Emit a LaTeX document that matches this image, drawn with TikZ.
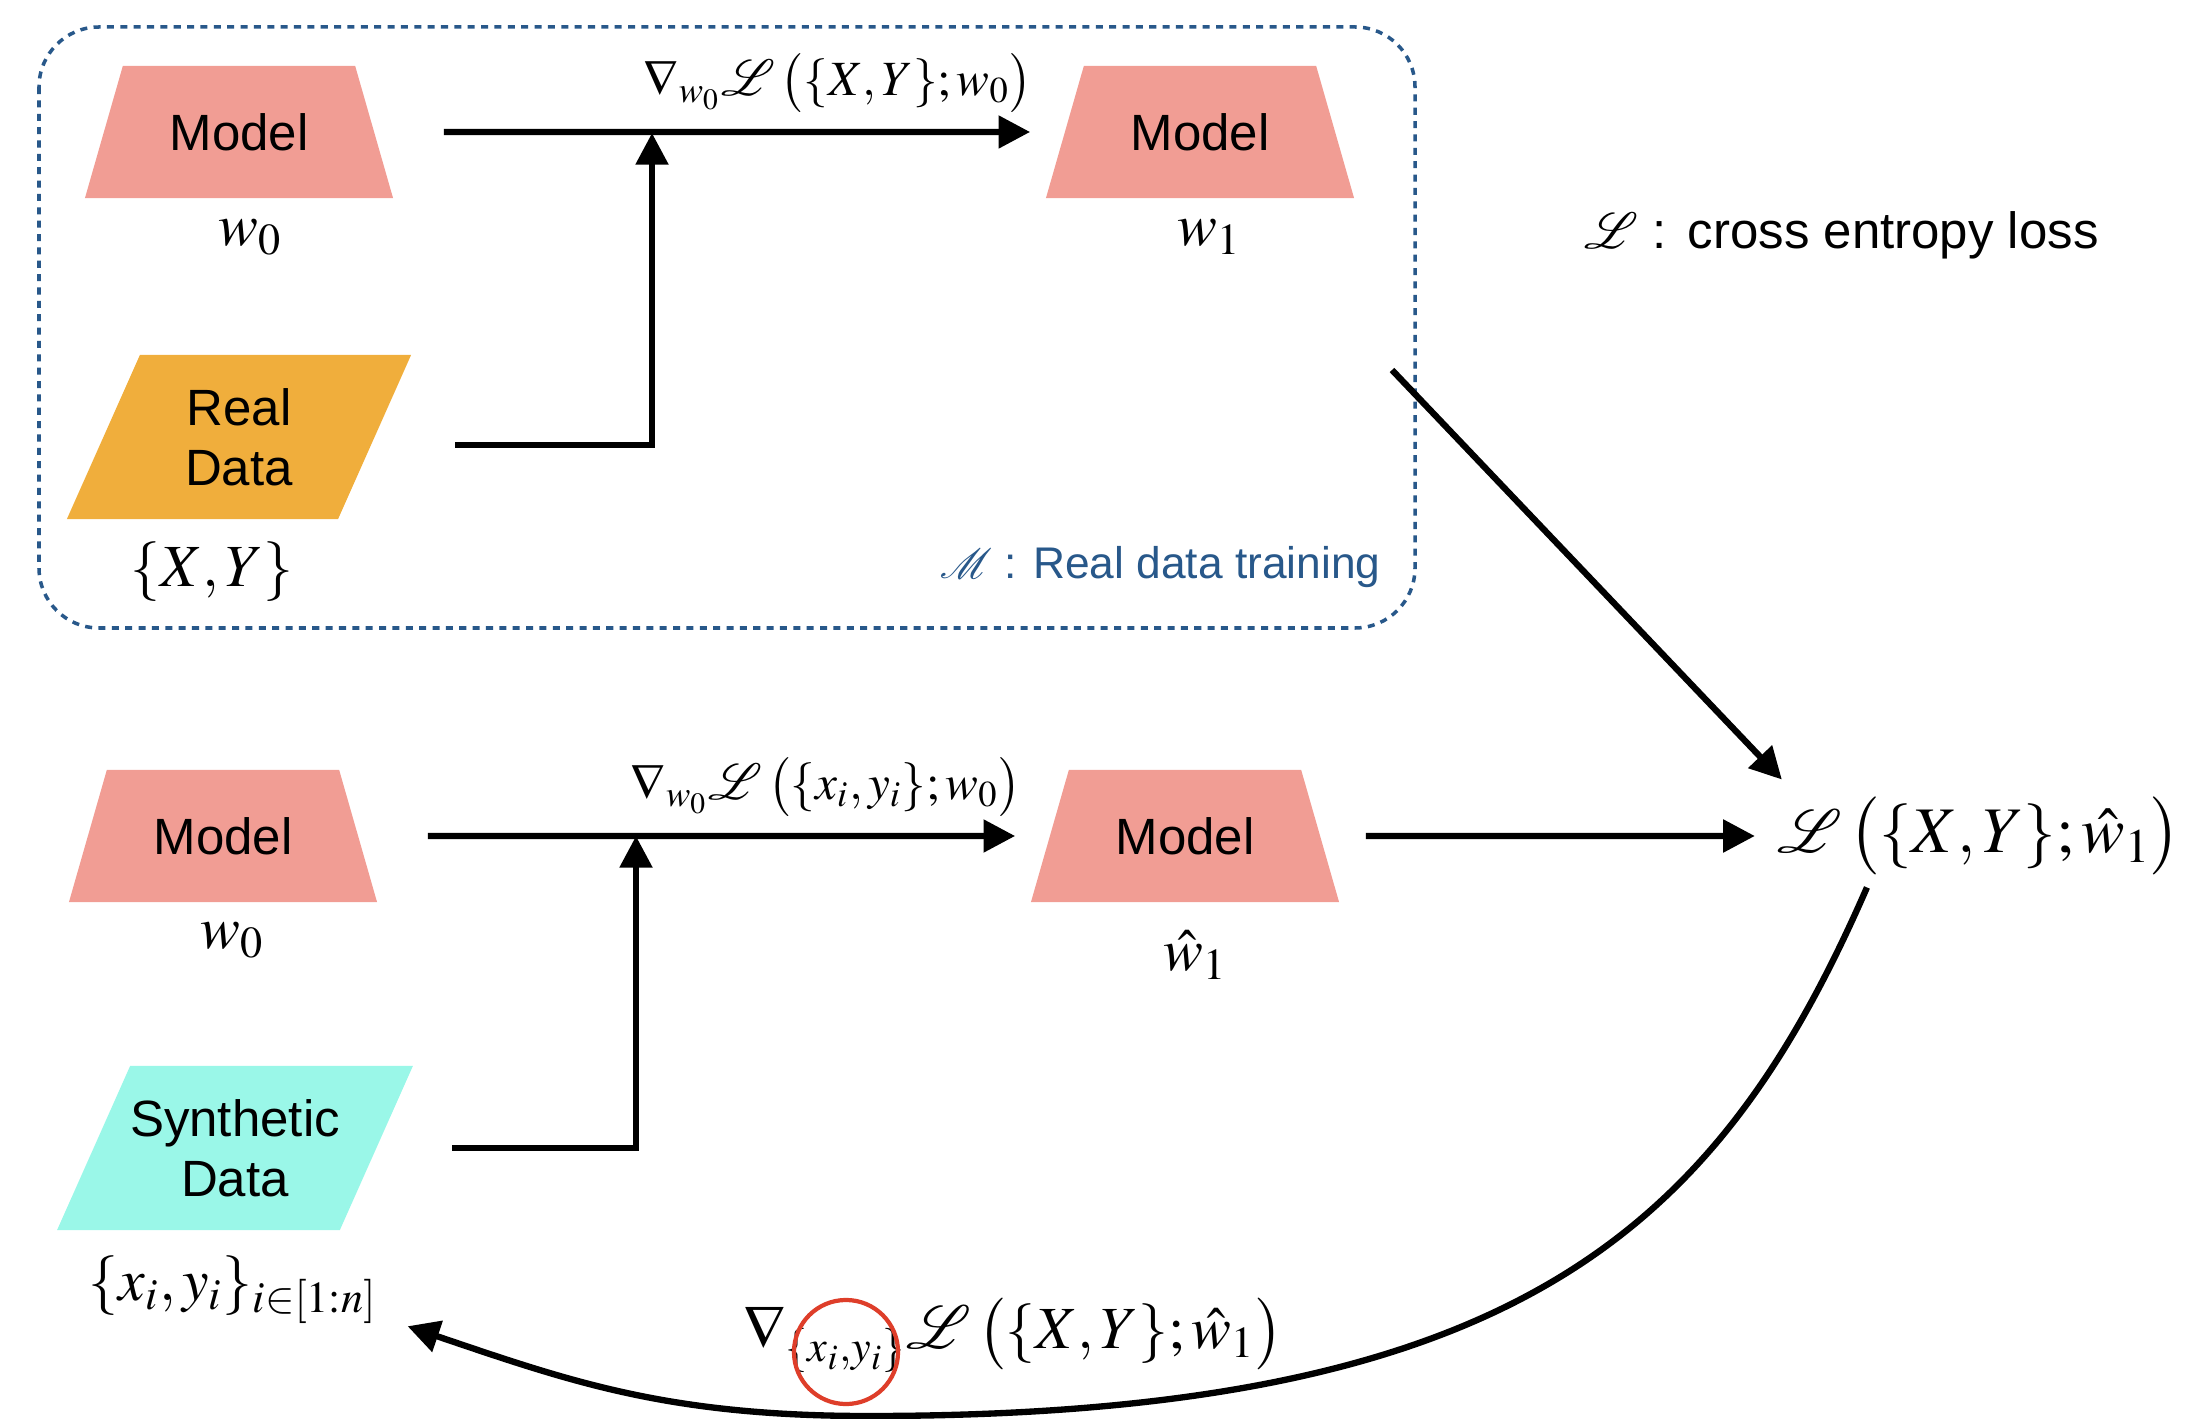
\documentclass[tikz,border=0pt]{standalone}
\usepackage{amsmath}
\IfFileExists{mathptmx.sty}{\usepackage{mathptmx}}{}
\IfFileExists{mathrsfs.sty}{\usepackage{mathrsfs}}{\providecommand{\mathscr}{\mathcal}}
\usepackage[no-math]{fontspec}
\setmainfont{Liberation Sans}
\usetikzlibrary{shapes.geometric,arrows.meta}
\definecolor{modelpink}{RGB}{241,157,148}
\definecolor{realorange}{RGB}{240,174,60}
\definecolor{synthcyan}{RGB}{154,247,232}
\definecolor{regionblue}{RGB}{40,88,138}
\definecolor{markred}{RGB}{222,62,42}

\begin{document}
\begin{tikzpicture}[x=0.01cm, y=-0.01cm,
	model/.style = {trapezium, trapezium angle=74, trapezium stretches body, fill=modelpink, minimum width=3.08cm, minimum height=1.32cm, inner xsep=0pt, inner ysep=13.5pt, font=\fontsize{14.5}{17}\selectfont},
	datanode/.style = {trapezium, trapezium left angle=66, trapezium right angle=114, trapezium stretches body, minimum width=3.44cm, minimum height=1.64cm, inner xsep=0pt, inner ysep=9.5pt, align=center, font=\fontsize{14.5}{17}\selectfont},
	sym/.style = {font=\fontsize{17}{20}\selectfont, inner sep=1pt},
	grad/.style = {font=\fontsize{14}{17}\selectfont},
	big/.style = {font=\fontsize{18.5}{22}\selectfont},
	note/.style = {font=\fontsize{14.5}{17}\selectfont},
	arr/.style = {line width=1.8pt, -{Triangle[length=9pt,width=9pt]}},
	flow/.style = {arr, shorten <=0.69cm, shorten >=0.34cm},
	region/.style = {draw=regionblue, line width=1pt, dash pattern=on 2pt off 1.8pt, rounded corners=0.6cm},
	ring/.style = {circle, draw=markred, line width=1.2pt, minimum size=1.04cm, inner sep=0pt},
]
\useasboundingbox (0,0) rectangle (2194,1419);

\node[model] (mdlA) at (239,132) {Model};
\node[model] (mdlB) at (1200,132) {Model};
\node[datanode, fill=realorange] (real) at (239,437) {Real\\Data};
\node[model] (mdlC) at (223,836) {Model};
\node[model] (mdlD) at (1185,836) {Model};
\node[datanode, fill=synthcyan] (synth) at (235,1148) {Synthetic\\Data};

\node[sym] (wA) at (250,237) {$w_0$};
\node[sym] (wB) at (1209,237) {$w_1$};
\node[sym] (XY) at (212,572) {$\{X,Y\}$};
\node[sym] (wC) at (232,940) {$w_0$};
\node[sym] (wD) at (1195,955) {$\hat{w}_1$};
\node[sym] (xy) at (233,1290) {$\{x_i,y_i\}_{i\in[1:n]}$};

\draw[region] (39,27) rectangle (1415,628);
\node[note, anchor=east, text=regionblue, font=\fontsize{12.6}{15}\selectfont] (mnote) at (1393,567) {$\mathscr{M}$ : Real data training};
\node[note, anchor=west] (legend) at (1572,235) {$\mathscr{L}$\hspace{4pt}:\hspace{6pt}cross entropy loss};

\node[grad] (gA) at (838,83) {$\nabla_{w_0}\mathscr{L}\,\big(\{X,Y\};w_0\big)$};
\node[grad] (gC) at (826,787) {$\nabla_{w_0}\mathscr{L}\,\big(\{x_i,y_i\};w_0\big)$};
\node[big] (loss) at (1979,836) {$\mathscr{L}\,\big(\{X,Y\};\hat{w}_1\big)$};
\node[big, font=\fontsize{17}{21}\selectfont] (gE) at (1013,1335) {$\nabla_{\{x_i,y_i\}}\mathscr{L}\,\big(\{X,Y\};\hat{w}_1\big)$};
\node[ring] (mark) at (846,1352) {};

\coordinate (jA) at (652,133);
\coordinate (jC) at (636,836);
\coordinate (mout) at (1392,370);

\draw[flow] (mdlA) -- (mdlB);
\draw[arr, shorten <=0.8cm] ([yshift=-0.08cm]real.east) -| (jA);
\draw[flow] (mdlC) -- (mdlD);
\draw[arr, shorten <=0.75cm] (synth.east) -| (jC);
\draw[arr, shorten <=0.45cm, shorten >=0.1cm] (mdlD) -- (loss);
\draw[arr] (mout) -- ([shift={(0.17cm,0.05cm)}]loss.north west);
\draw[arr] ([xshift=-1.12cm]loss.south) .. controls (1718,1229) and (1518,1416) .. (868,1416) .. controls (668,1416) and (572,1382) .. ([shift={(0.26cm,0.02cm)}]xy.south east);

\end{tikzpicture}
\end{document}
